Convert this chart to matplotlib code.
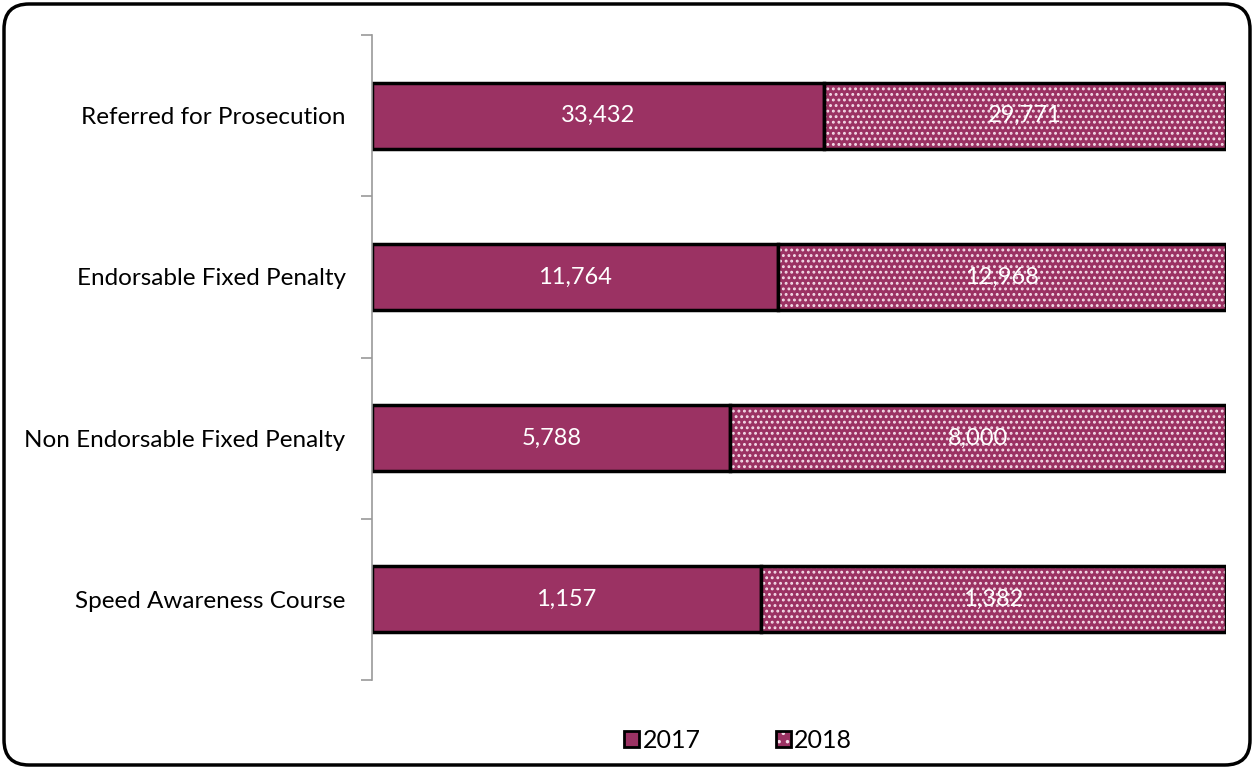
import matplotlib
matplotlib.use("Agg")
import matplotlib.pyplot as plt
from matplotlib.patches import FancyBboxPatch, Patch
from matplotlib.legend_handler import HandlerTuple
import numpy as np

categories = ["Referred for Prosecution", "Endorsable Fixed Penalty",
              "Non Endorsable Fixed Penalty", "Speed Awareness Course"]
values_2017 = [33432, 11764, 5788, 1157]
values_2018 = [29771, 12968, 8000, 1382]
series_names = ["2017", "2018"]

color = "#9B3263"
plt.rcParams['font.family'] = ['Lato', 'DejaVu Sans']
plt.rcParams['hatch.linewidth'] = 1.3

fig = plt.figure(figsize=(12.54, 7.69), dpi=100)
ax = fig.add_axes([372/1254, 1-680/769, (1226-372)/1254, (680-35)/769])

v17 = np.array(values_2017, float)
v18 = np.array(values_2018, float)
tot = v17 + v18
p17 = v17 / tot
p18 = v18 / tot
y = np.arange(len(categories))
h = 0.41

ax.barh(y, p17, height=h, color=color, edgecolor="black", linewidth=2.5, zorder=2)
# 2018: fill with white dot hatch, then black outline
ax.barh(y, p18, left=p17, height=h, color=color, edgecolor="#f4dce8", linewidth=0,
        hatch="...", zorder=2)
ax.barh(y, p18, left=p17, height=h, color="none", edgecolor="black", linewidth=2.5, zorder=3)

for i in range(len(categories)):
    ax.text(p17[i]/2, y[i], f"{values_2017[i]:,}", ha="center", va="center",
            color="white", fontsize=17, zorder=4)
    ax.text(p17[i] + p18[i]/2, y[i], f"{values_2018[i]:,}", ha="center", va="center",
            color="white", fontsize=17, zorder=4)

ax.set_xlim(0, 1)
ax.set_ylim(len(categories) - 0.5, -0.5)
ax.set_yticks(np.arange(-0.5, len(categories), 1.0), minor=False)
ax.set_yticklabels([])
ax.set_yticks(y, minor=True)
ax.set_yticklabels(categories, minor=True, fontsize=17.5)
ax.tick_params(axis="y", which="major", length=8, color="#999999", width=1.2)
ax.tick_params(axis="y", which="minor", length=0, pad=19)
ax.set_xticks([])
for s in ["top", "right", "bottom"]:
    ax.spines[s].set_visible(False)
ax.spines["left"].set_color("#999999")
ax.spines["left"].set_linewidth(1.2)

h17 = Patch(facecolor=color, edgecolor="black", linewidth=2)
h18 = (Patch(facecolor=color, edgecolor="#f4dce8", hatch="..", linewidth=0),
       Patch(facecolor="none", edgecolor="black", linewidth=2))
leg = fig.legend([h17, h18], series_names, loc="center", bbox_to_anchor=(738/1254, 1-740/769),
                 ncol=2, frameon=False, fontsize=18, handlelength=0.6, handleheight=0.6,
                 handletextpad=0.15, columnspacing=3.0,
                 handler_map={tuple: HandlerTuple(ndivide=1)})

border = FancyBboxPatch((4/1254, 4/769), 1246/1254, 761/769,
                        boxstyle="round,pad=0,rounding_size=0.02",
                        transform=fig.transFigure, facecolor="none",
                        edgecolor="black", linewidth=2.5, mutation_aspect=1254/769)
fig.patches.append(border)

fig.savefig("out.png", dpi=100)
